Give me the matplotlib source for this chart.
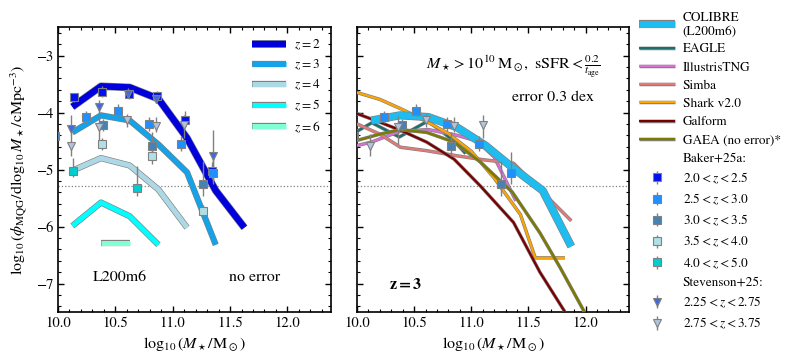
import numpy as np
import matplotlib
matplotlib.use('Agg')
from matplotlib import pyplot as plt
from matplotlib.lines import Line2D
import matplotlib.patheffects as pe
from matplotlib.ticker import MultipleLocator

plt.rcParams['font.family'] = 'STIXGeneral'
plt.rcParams['mathtext.fontset'] = 'stix'

# COLIBRE L200m6, no error (left panel)
m_bins = [10.125, 10.375, 10.625, 10.875, 11.125, 11.375, 11.625]
colibre_z2 = [-3.90, -3.54, -3.56, -3.76, -4.45, -5.37, -6.02]
colibre_z3 = [-4.35, -4.05, -4.14, -4.56, -5.05, -6.32]
colibre_z4 = [-5.02, -4.80, -4.93, -5.35, -6.02]
colibre_z5 = [-5.99, -5.58, -5.82, -6.32]
colibre_z6 = [-6.29, -6.29]
m_z6 = [10.375, 10.625]

# right panel, z=3 with 0.3 dex error
colibre_m = [10.125, 10.375, 10.625, 10.875, 11.125, 11.375, 11.625, 11.875]
colibre_err = [-4.14, -4.05, -4.08, -4.26, -4.58, -4.99, -5.37, -6.35]
eagle_m = [10.0, 10.13, 10.37, 10.62, 10.85, 10.95]
eagle_phi = [-4.33, -4.18, -4.43, -4.15, -4.50, -4.72]
tng_m = [10.0, 10.125, 10.375, 10.625, 10.875, 11.05, 11.2, 11.39]
tng_phi = [-4.58, -4.52, -4.33, -4.30, -4.40, -4.50, -4.78, -5.55]
simba_m = [10.0, 10.2, 10.38, 10.61, 10.875, 11.11, 11.37, 11.875]
simba_phi = [-4.20, -4.38, -4.61, -4.67, -4.76, -4.83, -4.89, -5.90]
shark_m = [10.0, 10.2, 10.4, 10.6, 10.8, 11.0, 11.2, 11.43, 11.56, 11.82]
shark_phi = [-3.65, -3.77, -3.95, -4.15, -4.37, -4.68, -5.15, -5.79, -6.55, -6.55]
galform_m = [10.0, 10.2, 10.39, 10.61, 10.85, 11.08, 11.37, 11.6, 11.82]
galform_phi = [-4.02, -4.17, -4.32, -4.52, -4.82, -5.29, -5.93, -6.80, -7.50]
gaea_m = [10.0, 10.2, 10.38, 10.61, 10.85, 11.08, 11.36, 11.6, 11.78, 11.99]
gaea_phi = [-4.49, -4.38, -4.30, -4.35, -4.52, -4.87, -5.40, -6.11, -6.73, -7.50]

# Baker+25a
b1_m = [10.14, 10.38, 10.62, 10.86, 11.11, 11.34]
b1_phi = [-3.73, -3.64, -3.68, -3.71, -4.13, -5.02]
b1_lo = [0.08, 0.08, 0.08, 0.08, 0.12, 0.15]
b1_hi = [0.08, 0.10, 0.08, 0.08, 0.15, 0.15]
b2_m = [10.24, 10.52, 10.79, 11.07, 11.35]
b2_phi = [-4.08, -3.97, -4.20, -4.55, -5.07]
b2_lo = [0.10, 0.10, 0.12, 0.13, 0.19]
b2_hi = [0.10, 0.12, 0.12, 0.13, 0.38]
b3_m = [9.97, 10.39, 10.82, 11.26]
b3_phi = [-4.41, -4.22, -4.59, -5.26]
b3_lo = [0.10, 0.10, 0.17, 0.20]
b3_hi = [0.10, 0.10, 0.25, 0.41]
b4_m = [10.38, 10.82, 11.26]
b4_phi = [-4.55, -4.76, -5.73]
b4_lo = [0.10, 0.15, 0.10]
b4_hi = [0.10, 0.15, 0.10]
b5_m = [10.13, 10.69]
b5_phi = [-5.02, -5.32]
b5_lo = [0.11, 0.14]
b5_hi = [0.22, 0.39]

# Stevenson+25
s1_m = [10.11, 10.36, 10.61, 10.85, 11.35]
s1_phi = [-4.29, -3.90, -3.67, -3.76, -4.76]
s1_lo = [0.10, 0.10, 0.08, 0.08, 0.45]
s1_hi = [0.25, 0.12, 0.10, 0.10, 0.45]
s2_m = [10.11, 10.36, 10.60, 10.85, 11.10]
s2_phi = [-4.59, -4.26, -4.14, -4.23, -4.22]
s2_lo = [0.18, 0.30, 0.12, 0.12, 0.22]
s2_hi = [0.22, 0.20, 0.12, 0.15, 0.18]

phi_limit = -5.29


def outline(lw):
    return [pe.Stroke(linewidth=lw + 0.9, foreground='gray'), pe.Normal()]


def model(ax, x, y, c, lw, label, z=3):
    ln, = ax.plot(x, y, color=c, lw=lw, label=label, zorder=z,
                  solid_capstyle='butt', path_effects=outline(lw))
    return ln


def data(ax, x, y, lo, hi, c, mk, label):
    return ax.errorbar(x, y, yerr=[lo, hi], fmt=mk, color=c, ms=6,
                       mec='gray', mew=0.8, ecolor='gray', elinewidth=1,
                       capsize=0, label=label, zorder=10)


fig = plt.figure(figsize=(7.93, 3.62), dpi=100)
ax1 = fig.add_axes([58/793, 1-312/362, 273/793, 285/362])
ax2 = fig.add_axes([357/793, 1-312/362, 272/793, 285/362])

# left panel
model(ax1, m_bins, colibre_z2, '#0000dd', 4.6, r'$z=2$')
model(ax1, m_bins[:6], colibre_z3, '#14a2e8', 3.6, r'$z=3$')
model(ax1, m_bins[:5], colibre_z4, '#add8e6', 3.6, r'$z=4$')
model(ax1, m_bins[:4], colibre_z5, '#00ffff', 3.6, r'$z=5$')
model(ax1, m_z6, colibre_z6, '#7fffd4', 3.6, r'$z=6$')
ax1.legend(loc='upper right', fontsize=9.5, frameon=False, handlelength=2.6,
           handletextpad=0.6, labelspacing=0.45, borderaxespad=0.4)

# right panel
h_col = model(ax2, colibre_m, colibre_err, '#1fbcf0', 5.0, 'COLIBRE\n(L200m6)', z=5)
h_eag = model(ax2, eagle_m, eagle_phi, '#17706e', 1.6, 'EAGLE')
h_tng = model(ax2, tng_m, tng_phi, '#da70d6', 1.6, 'IllustrisTNG')
h_sim = model(ax2, simba_m, simba_phi, '#e27a7a', 1.6, 'Simba')
h_sha = model(ax2, shark_m, shark_phi, '#ffa500', 1.6, 'Shark v2.0')
h_gal = model(ax2, galform_m, galform_phi, '#7a0000', 1.6, 'Galform')
h_gae = model(ax2, gaea_m, gaea_phi, '#7d7a00', 1.6, 'GAEA (no error)*')

# observations
baker = [(b1_m, b1_phi, b1_lo, b1_hi, '#0010f0', r'$2.0<z<2.5$'),
         (b2_m, b2_phi, b2_lo, b2_hi, '#1e90ff', r'$2.5<z<3.0$'),
         (b3_m, b3_phi, b3_lo, b3_hi, '#4682b4', r'$3.0<z<3.5$'),
         (b4_m, b4_phi, b4_lo, b4_hi, '#b0e0e6', r'$3.5<z<4.0$'),
         (b5_m, b5_phi, b5_lo, b5_hi, '#00ced1', r'$4.0<z<5.0$')]
steven = [(s1_m, s1_phi, s1_lo, s1_hi, '#4169e1', r'$2.25<z<2.75$'),
          (s2_m, s2_phi, s2_lo, s2_hi, '#b0c4de', r'$2.75<z<3.75$')]

h_baker = []
for x, y, lo, hi, c, lab in baker:
    h_baker.append(data(ax1, x, y, lo, hi, c, 's', lab))
h_stev = []
for x, y, lo, hi, c, lab in steven:
    h_stev.append(data(ax1, x, y, lo, hi, c, 'v', lab))

# z~3 data in right panel
for i in [1, 2]:
    x, y, lo, hi, c, lab = baker[i]
    data(ax2, x, y, lo, hi, c, 's', lab)
x, y, lo, hi, c, lab = steven[1]
data(ax2, x, y, lo, hi, c, 'v', lab)

for ax in [ax1, ax2]:
    ax.axhline(phi_limit, color='gray', ls=':', lw=0.9, zorder=1)
    ax.set_xlim(10.0, 12.38)
    ax.set_ylim(-7.5, -2.5)
    ax.xaxis.set_major_locator(MultipleLocator(0.5))
    ax.xaxis.set_minor_locator(MultipleLocator(0.1))
    ax.yaxis.set_major_locator(MultipleLocator(1))
    ax.yaxis.set_minor_locator(MultipleLocator(0.2))
    ax.tick_params(which='both', direction='in', top=True, right=True,
                   labelsize=10.5)
    ax.tick_params(which='major', length=4.5, width=1)
    ax.tick_params(which='minor', length=2.5, width=0.8)
    ax.set_xticks([10.0, 10.5, 11.0, 11.5, 12.0])
    ax.set_xticklabels(['10.0', '10.5', '11.0', '11.5', '12.0'])
    ax.set_xlabel(r'$\log_{10}(M_\star/{\rm M}_\odot)$', fontsize=11.5)
    for s in ax.spines.values():
        s.set_linewidth(1.2)

ax1.set_ylabel(r'$\log_{10}(\phi_{\rm MQG}/{\rm d}\log_{10}M_\star/{\rm cMpc}^{-3})$',
               fontsize=11.5)
ax2.tick_params(labelleft=False)

ax1.text(10.54, -6.9, 'L200m6', fontsize=11.5, ha='center', va='center')
ax1.text(11.71, -6.9, 'no error', fontsize=11.5, ha='center', va='center')
ax2.text(10.28, -7.02, r'$\mathbf{z=3}$', fontsize=11.5, ha='left', va='center')
ax2.text(12.13, -3.2, r'$M_\star > 10^{10}\,{\rm M}_\odot,\ {\rm sSFR} < \frac{0.2}{t_{\rm age}}$',
         fontsize=11.5, ha='right', va='center')
ax2.text(12.07, -3.73, 'error 0.3 dex', fontsize=11.5, ha='right', va='center')

blank = Line2D([], [], ls='none', marker='none')
handles = [h_col, h_eag, h_tng, h_sim, h_sha, h_gal, h_gae, blank] + h_baker + [blank] + h_stev
labels = ['COLIBRE\n(L200m6)', 'EAGLE', 'IllustrisTNG', 'Simba', 'Shark v2.0', 'Galform',
          'GAEA (no error)*', 'Baker+25a:'] + [b[5] for b in baker] + ['Stevenson+25:'] + [s[5] for s in steven]
fig.legend(handles, labels, loc='upper left', bbox_to_anchor=(639/793, 1-12/362),
           fontsize=9.5, frameon=False, handlelength=2.7, handletextpad=0.6,
           labelspacing=0.45, borderaxespad=0, borderpad=0)

fig.savefig('out.png', dpi=100)
